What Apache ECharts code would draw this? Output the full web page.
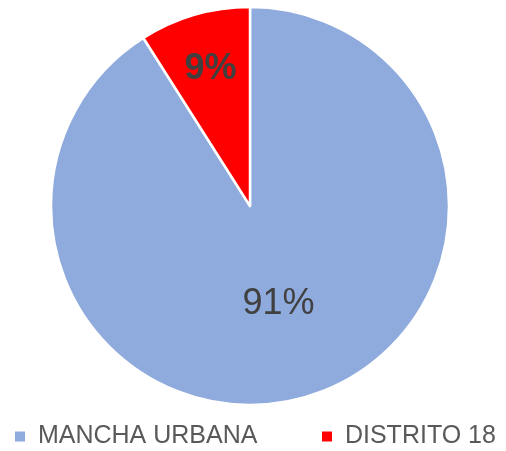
<!DOCTYPE html>
<html>
<head>
<meta charset="utf-8">
<script src="https://cdn.jsdelivr.net/npm/echarts@6/dist/echarts.min.js"></script>
<style>
  html, body { margin: 0; padding: 0; background: #fff; }
  #chart { width: 506px; height: 451px; }
</style>
</head>
<body>
<div id="chart"></div>
<script>
var categories = ['MANCHA URBANA', 'DISTRITO 18'];
var values = [91, 9];
var colors = ['#8faadc', '#ff0000'];
var legendLeft = [13, 320];

var chart = echarts.init(document.getElementById('chart'));
var data = categories.map(function (name, i) {
  return {
    name: name,
    value: values[i],
    itemStyle: { color: colors[i] },
    label: i === 1
      ? { fontWeight: 'bold', fontSize: 36 }
      : { fontWeight: 'normal', fontSize: 36 }
  };
});

// one legend per item so each can sit where the original put it
var legends = categories.map(function (name, i) {
  return {
    data: [name],
    left: legendLeft[i],
    top: 424,
    padding: 0,
    itemWidth: 12,
    itemHeight: 12,
    icon: 'rect',
    formatter: ' {name}',
    textStyle: {
      color: '#595959',
      fontSize: 25,
      fontFamily: 'Liberation Sans'
    }
  };
});

chart.setOption({
  backgroundColor: '#ffffff',
  animation: false,
  legend: legends,
  series: [{
    type: 'pie',
    center: [250, 206],
    radius: 199,
    startAngle: 90,
    clockwise: true,
    label: {
      show: true,
      position: 'inside',
      formatter: '{d}%',
      color: '#404040',
      fontFamily: 'Liberation Sans'
    },
    labelLayout: function (params) {
      if (params.dataIndex === 1) {
        return { dx: -11, dy: -38 };
      }
      return {};
    },
    labelLine: { show: false },
    itemStyle: { borderColor: '#ffffff', borderWidth: 2.5 },
    emphasis: { disabled: true },
    data: data
  }]
});
</script>
</body>
</html>
